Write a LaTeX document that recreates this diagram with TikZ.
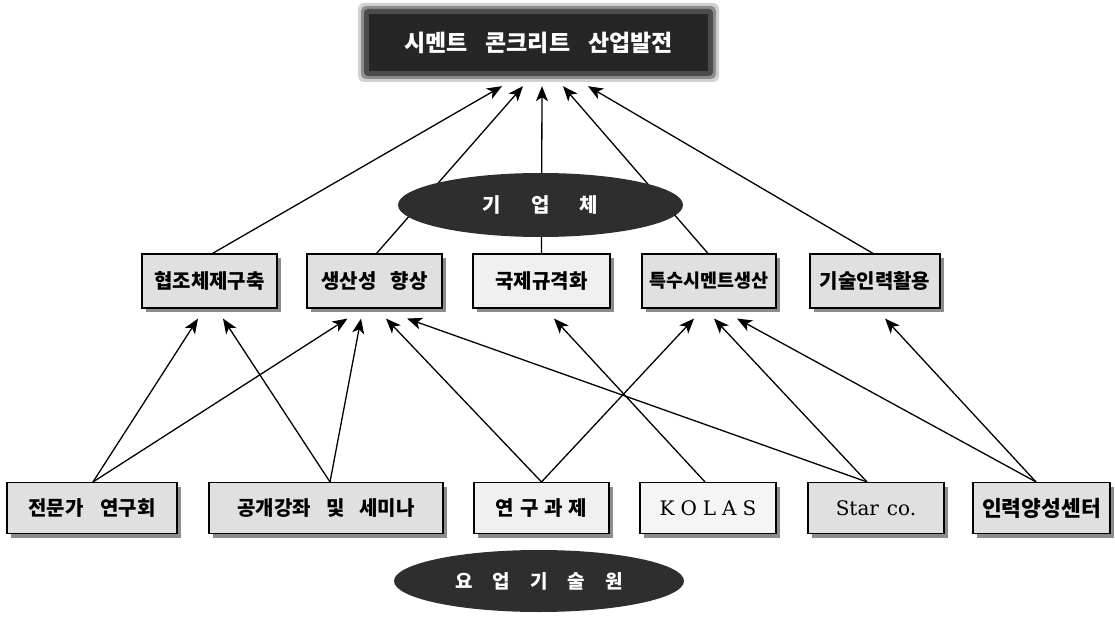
\documentclass[tikz,border=0pt]{standalone}
\usepackage{fontspec}
\setmainfont{DejaVu Serif}
\newfontfamily\kr{Noto Sans CJK KR}
\usetikzlibrary{arrows.meta,shadows,shapes.geometric}
\begin{document}
\begin{tikzpicture}[x=1pt,y=-1pt,
  box/.style={draw=black, line width=1.1pt, fill=black!12, inner sep=0pt,
    minimum height=54pt, font=\kr\bfseries\fontsize{20}{24}\selectfont,
    drop shadow={shadow xshift=4pt, shadow yshift=-4pt, fill=black!45, opacity=1}},
  lowbox/.style={box, minimum height=51pt},
  lightbox/.style={fill=black!6},
  latin/.style={font=\fontsize{20}{24}\selectfont},
  topbox/.style={fill=black!85, inner sep=0pt, minimum width=339pt, minimum height=57pt,
    text=white, font=\kr\bfseries\fontsize{23}{27}\selectfont},
  ell/.style={ellipse, fill=black!82, inner sep=0pt, text=white},
  arr/.style={line width=1.3pt, -{Stealth[length=15pt,width=12pt,inset=4pt]}},
]
\useasboundingbox (0,0) rectangle (1115,617);

% fuzzy halo of the top box
\fill[black!18, rounded corners=6pt] (358,3) rectangle (719,82);
\fill[black!45, rounded corners=5pt] (361,6) rectangle (716,79);
\fill[black!70, rounded corners=4pt] (364,9) rectangle (713,76);
\node[topbox] (T) at (538.5,42.5) {시멘트\hspace{18pt}콘크리트\hspace{18pt}산업발전};

% middle row
\node[box, minimum width=135pt] (m1) at (209.5,281) {협조체제구축};
\node[box, minimum width=135pt] (m2) at (374.5,281) {생산성\hspace{14pt}향상};
\node[box, lightbox, minimum width=137pt] (m3) at (541.5,281) {국제규격화};
\node[box, minimum width=134pt, font=\kr\bfseries\fontsize{18.5}{22}\selectfont] (m4) at (709,281) {특수시멘트생산};
\node[box, minimum width=130pt] (m5) at (875,281) {기술인력활용};

% bottom row
\node[lowbox, minimum width=170pt] (b1) at (92,508) {전문가\hspace{17pt}연구회};
\node[lowbox, minimum width=234pt] (b2) at (326,508) {공개강좌\hspace{15pt}및\hspace{15pt}세미나};
\node[lowbox, lightbox, minimum width=135pt] (b3) at (541.5,508) {연\hspace{6pt}구\hspace{6pt}과\hspace{6pt}제};
\node[lowbox, lightbox, fill=black!4, minimum width=136pt, latin] (b4) at (708,508) {K\hspace{6pt}O\hspace{6pt}L\hspace{6pt}A\hspace{6pt}S};
\node[lowbox, minimum width=136pt, latin] (b5) at (876,508) {Star\hspace{8pt}co.};
\node[lowbox, minimum width=137pt, font=\kr\bfseries\fontsize{21.5}{24}\selectfont] (b6) at (1041.5,508) {인력양성센터};

% middle row -> top
\draw[arr] ([xshift=3pt]m1.north) -- ([xshift=-36.5pt,yshift=-15pt]T.south);
\draw[arr] ([xshift=2pt]m2.north) -- ([xshift=-15.5pt,yshift=-15pt]T.south);
\draw[arr] (m3.north) -- ([xshift=3.5pt,yshift=-15pt]T.south);
\draw[arr] ([xshift=-1pt]m4.north) -- ([xshift=24.5pt,yshift=-15pt]T.south);
\draw[arr] ([xshift=-2pt]m5.north) -- ([xshift=49.5pt,yshift=-15pt]T.south);

% bottom row -> middle row
\draw[arr] ([xshift=1pt]b1.north) -- ([xshift=-11.5pt,yshift=-10pt]m1.south);
\draw[arr] ([xshift=1pt]b1.north) -- ([xshift=-27pt,yshift=-10pt]m2.south);
\draw[arr] ([xshift=4pt]b2.north) -- ([xshift=13.5pt,yshift=-10pt]m1.south);
\draw[arr] ([xshift=4pt]b2.north) -- ([xshift=-13.5pt,yshift=-10pt]m2.south);
\draw[arr] (b3.north) -- ([xshift=11.5pt,yshift=-10pt]m2.south);
\draw[arr] (b3.north) -- ([xshift=-15pt,yshift=-10pt]m4.south);
\draw[arr] ([xshift=-3pt]b4.north) -- ([xshift=12.5pt,yshift=-10pt]m3.south);
\draw[arr] ([xshift=-9pt]b5.north) -- ([xshift=32.5pt,yshift=-10pt]m2.south);
\draw[arr] ([xshift=-9pt]b5.north) -- ([xshift=5pt,yshift=-10pt]m4.south);
\draw[arr] ([xshift=-5.5pt]b6.north) -- ([xshift=28pt,yshift=-10pt]m4.south);
\draw[arr] ([xshift=-5.5pt]b6.north) -- ([xshift=10pt,yshift=-10pt]m5.south);

% ellipses (drawn over the lines)
\node[ell, minimum width=285pt, minimum height=64pt, font=\kr\bfseries\fontsize{20}{24}\selectfont] (E1) at (540.5,205) {기\hspace{30pt}업\hspace{30pt}체};
\node[ell, minimum width=290pt, minimum height=62pt, font=\kr\bfseries\fontsize{19}{22}\selectfont] (E2) at (539,581) {요\hspace{20pt}업\hspace{20pt}기\hspace{20pt}술\hspace{20pt}원};
\end{tikzpicture}
\end{document}
